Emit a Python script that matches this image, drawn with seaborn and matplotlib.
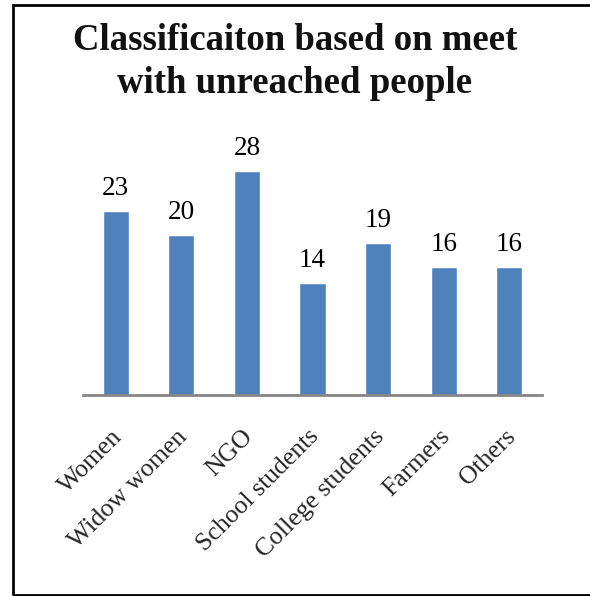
import matplotlib
matplotlib.use("Agg")
import matplotlib.pyplot as plt
from matplotlib.patches import Rectangle
from matplotlib.transforms import ScaledTranslation
import seaborn as sns
import pandas as pd

categories = ["Women", "Widow women", "NGO", "School students",
              "College students", "Farmers", "Others"]
counts = [23, 20, 28, 14, 19, 16, 16]
title = "Classificaiton based on meet\nwith unreached people"

sns.set_style("white")
plt.rcParams["font.family"] = ["Liberation Serif", "DejaVu Serif"]

df = pd.DataFrame({"group": categories, "count": counts})

fig = plt.figure(figsize=(5.90, 5.96), dpi=100)
ax = fig.add_axes([83 / 590, 1 - 395 / 596, 459 / 590, 240 / 596])

sns.barplot(data=df, x="group", y="count", color="#4F81BD", width=0.4,
            saturation=1, ax=ax, zorder=2)
ax.bar_label(ax.containers[0], labels=[str(v) for v in counts],
             padding=7.5, fontsize=19.5, color="black")

ax.set_ylim(0, 30)
ax.set_xlim(-0.5, len(categories) - 0.5)
ax.set_xlabel("")
ax.set_ylabel("")
ax.set_yticks([])
for side in ("left", "right", "top"):
    ax.spines[side].set_visible(False)
ax.spines["bottom"].set_color("#868686")
ax.spines["bottom"].set_linewidth(2)
ax.tick_params(axis="x", length=0, pad=22)
shift = ScaledTranslation(-5 / 100, 0, fig.dpi_scale_trans)
for lbl in ax.get_xticklabels():
    lbl.set_rotation(45)
    lbl.set_ha("right")
    lbl.set_rotation_mode("anchor")
    lbl.set_fontsize(18.5)
    lbl.set_transform(lbl.get_transform() + shift)

fig.text(0.5, 1 - 62 / 596, title, ha="center", va="center",
         fontsize=26.5, fontweight="bold", linespacing=1.33,
         color="#111111")

# frame around the whole figure (open on the right)
fig.patches.append(Rectangle((13 / 590, 1 / 596), 1.0, 590 / 596,
                             transform=fig.transFigure, fill=False,
                             edgecolor="black", linewidth=2))

fig.savefig("out.png", dpi=100)
